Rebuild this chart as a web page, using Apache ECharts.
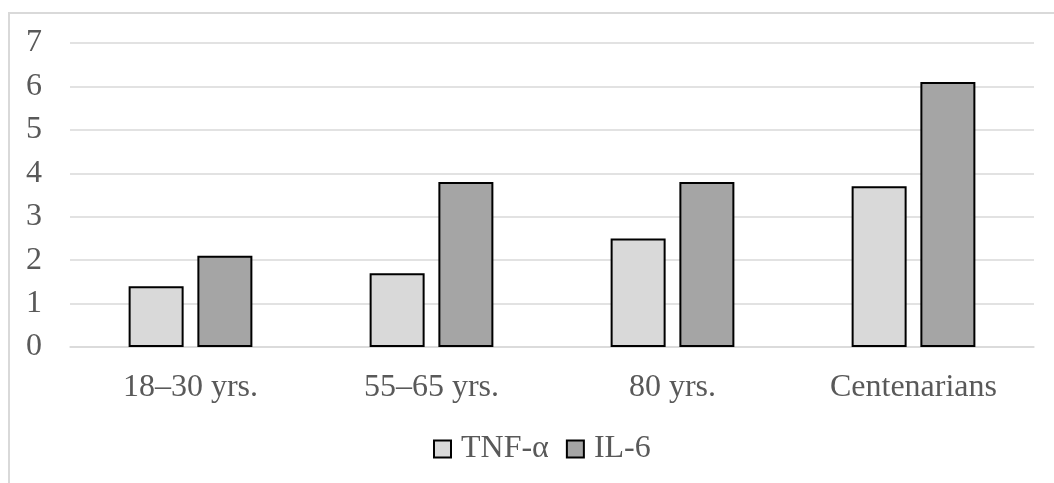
<!DOCTYPE html>
<html>
<head>
<meta charset="utf-8">
<script src="https://cdn.jsdelivr.net/npm/echarts@6/dist/echarts.min.js"></script>
<style>
  html, body { margin: 0; padding: 0; background: #ffffff; }
  #chart { width: 1054px; height: 483px; }
</style>
</head>
<body>
<div id="chart"></div>
<script>
// Age groups on the category axis
const categories = ['18–30 yrs.', '55–65 yrs.', '80 yrs.', 'Centenarians'];
// Cytokine levels per age group
const tnfAlpha = [1.4, 1.7, 2.5, 3.7];
const il6 = [2.1, 3.8, 3.8, 6.1];
// Value axis range
const yMin = 0, yMax = 7, yStep = 1;

const FONT = '"Liberation Serif", "Times New Roman", serif';
const TEXT = '#595959';

const chart = echarts.init(document.getElementById('chart'), null, { renderer: 'canvas' });

chart.setOption({
  animation: false,
  backgroundColor: '#ffffff',
  graphic: [{
    type: 'rect',
    shape: { x: 9, y: 13, width: 1200, height: 600 },
    style: { fill: 'none', stroke: '#d9d9d9', lineWidth: 2 },
    silent: true
  }],
  grid: { left: 70, right: 20, top: 43, bottom: 136, containLabel: false },
  legend: {
    bottom: 13,
    left: 428,
    itemWidth: 17,
    itemHeight: 17,
    itemGap: 17,
    icon: 'rect',
    textStyle: { fontFamily: FONT, fontSize: 32, color: TEXT, padding: [0, 0, 0, 5] },
    data: ['TNF-α', 'IL-6']
  },
  xAxis: {
    type: 'category',
    data: categories,
    axisLine: { show: true, lineStyle: { color: '#d9d9d9', width: 1.5 } },
    axisTick: { show: false },
    axisLabel: { fontFamily: FONT, fontSize: 32, color: TEXT, margin: 25 }
  },
  yAxis: {
    type: 'value',
    min: yMin,
    max: yMax,
    interval: yStep,
    axisLine: { show: false },
    axisTick: { show: false },
    splitLine: { lineStyle: { color: '#d9d9d9', width: 1.5 } },
    axisLabel: { fontFamily: FONT, fontSize: 32, color: TEXT, margin: 44, align: 'left' }
  },
  series: [
    {
      name: 'TNF-α',
      type: 'bar',
      data: tnfAlpha,
      barWidth: 55,
      barGap: '25%',
      itemStyle: { color: '#d9d9d9', borderColor: '#000000', borderWidth: 2 }
    },
    {
      name: 'IL-6',
      type: 'bar',
      data: il6,
      barWidth: 55,
      itemStyle: { color: '#a5a5a5', borderColor: '#000000', borderWidth: 2 }
    }
  ]
});
</script>
</body>
</html>
